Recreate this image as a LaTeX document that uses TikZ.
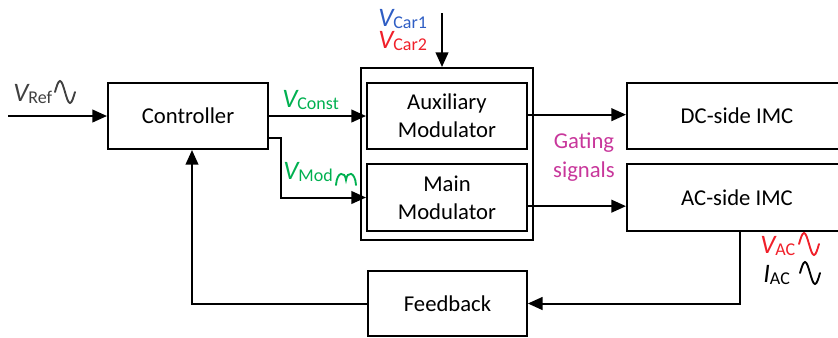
\documentclass[tikz,border=0pt]{standalone}
\usepackage{fontspec}
\setmainfont{Carlito}
\usetikzlibrary{arrows.meta}

\definecolor{sigGreen}{HTML}{00B050}
\definecolor{sigBlue}{HTML}{2F5EC4}
\definecolor{sigRed}{HTML}{F0202A}
\definecolor{sigPink}{HTML}{C8379B}
\definecolor{sigGray}{HTML}{404040}

% italic symbol with lowered subscript
\newcommand{\sgl}[2]{{\fontsize{20}{20}\selectfont\itshape #1}\raisebox{-0.45ex}{\fontsize{13.5}{13.5}\selectfont #2}}

\tikzset{
  block/.style={draw, line width=1.5pt, minimum width=120pt, minimum height=49.5pt,
    align=center, font=\fontsize{17}{21}\selectfont},
  sig/.style={line width=1.5pt, -{Triangle[length=11pt,width=9.5pt]}},
  lbl/.style={anchor=base west, inner sep=0pt},
  wave/.pic={\draw[line width=1.4pt, line cap=round] (0,0) sin (5,-11) cos (10,0) sin (15,11) cos (20,0);},
}

\begin{document}
\begin{tikzpicture}[x=0.75pt, y=-0.75pt]
        \useasboundingbox (0,0) rectangle (838,337);

        % Define blocks
        \node[block] (ctrl) at (188,116) {Controller};
        \node[draw, line width=1.5pt, minimum width=129pt, minimum height=129pt] (modbox) at (447,154) {};
        \node[block] (aux) at (447,116) {Auxiliary\\Modulator};
        \node[block, minimum height=50pt] (main) at (447,197.5) {Main\\Modulator};
        \node[block, minimum width=165pt] (dc) at (737,115.5) {DC-side IMC};
        \node[block, minimum width=165pt, minimum height=50pt] (ac) at (737,197.5) {AC-side IMC};
        \node[block, minimum width=119pt, minimum height=48.75pt] (fb) at (447.5,303.5) {Feedback};

        % Define free ends
        \coordinate (refin) at (8,116);
        \coordinate (carin) at (442,13);
        \coordinate (modbend) at (281,197.5);

        % Draw signal paths
        \draw[sig] (refin) -- (ctrl.west);
        \draw[sig] (ctrl.east) -- (aux.west);
        \draw[sig] ([yshift=-16.5pt]ctrl.east) -| (modbend) -- (main.west);
        \draw[sig] (carin) -- (carin |- modbox.north);
        \draw[sig] ([yshift=1pt]aux.east) -- ([yshift=1pt]aux.east -| dc.west);
        \draw[sig] ([yshift=-6.5pt]main.east) -- ([yshift=-6.5pt]main.east -| ac.west);
        \draw[sig] ([xshift=2.25pt]ac.south) |- (fb.east);
        \draw[sig] (fb.west) -| ([xshift=3pt]ctrl.south);

        % Add labels
        \node[lbl, text=sigGray] (vref) at (13,101) {\sgl{V}{Ref}};
        \pic[sigGray] at (55,92) {wave};
        \node[lbl, text=sigGreen] (vconst) at (282,107) {\sgl{V}{Const}};
        \node[lbl, text=sigGreen] (vmod) at (283,179) {\sgl{V}{Mod}};
        \draw[sigGreen, line width=1.4pt, line cap=round] (336,185) .. controls (337,171) and (345,171) .. (346,180) .. controls (347,171) and (355,171) .. (356,185);
        \node[lbl, text=sigBlue] (vcar1) at (378,26) {\sgl{V}{Car1}};
        \node[lbl, text=sigRed] (vcar2) at (378,48) {\sgl{V}{Car2}};
        \node[text=sigPink, align=center, font=\fontsize{17}{21.75}\selectfont] (gating) at (584,157) {Gating\\signals};
        \node[lbl, text=sigRed] (vac) at (760,253) {\sgl{V}{AC}};
        \pic[sigRed] at (799,244) {wave};
        \node[lbl] (iac) at (763,282) {\sgl{I}{AC}};
        \pic at (800,273) {wave};
\end{tikzpicture}
\end{document}
